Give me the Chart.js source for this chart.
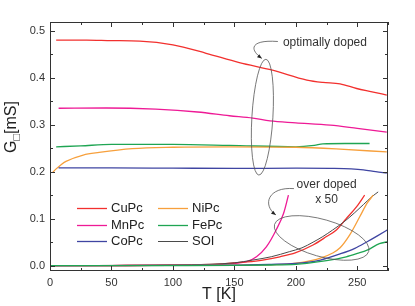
<!DOCTYPE html>
<html>
<head>
<meta charset="utf-8">
<script src="https://cdn.jsdelivr.net/npm/chart.js@4"></script>
<style>
html,body{margin:0;padding:0;background:#fff;}
canvas{display:block;}
</style>
</head>
<body>
<canvas id="c" width="415" height="306"></canvas>
<script>
// ---------- data ----------
// optimally doped
const T_CuPc = [5, 30, 50, 73, 100, 127, 154, 181, 209, 222, 236, 249.5, 262, 274];
const G_CuPc = [0.480, 0.480, 0.479, 0.478, 0.470, 0.452, 0.432, 0.416, 0.395, 0.390, 0.387, 0.377, 0.370, 0.363];
const T_MnPc = [7, 46, 86, 120, 146, 165, 179, 200, 228, 250, 274];
const G_MnPc = [0.335, 0.3355, 0.333, 0.327, 0.319, 0.314, 0.308, 0.304, 0.299, 0.292, 0.284];
const T_CoPc = [7, 50, 100, 150, 200, 228, 245, 255, 265, 274];
const G_CoPc = [0.208, 0.208, 0.2075, 0.207, 0.2075, 0.207, 0.206, 0.204, 0.200, 0.197];
const T_NiPc = [2, 5, 9, 13, 27, 40, 67, 100, 146, 200, 236, 274];
const G_NiPc = [0.198, 0.206, 0.215, 0.222, 0.2355, 0.241, 0.249, 0.252, 0.253, 0.252, 0.248, 0.242];
const T_FePc = [5, 25, 50, 100, 146, 200, 215, 222, 240, 260];
const G_FePc = [0.253, 0.255, 0.258, 0.258, 0.256, 0.253, 0.256, 0.259, 0.260, 0.260];
// over doped (x 50)
const T_CuPc_od = [0, 50, 100, 140, 160, 173, 187, 200, 214, 225, 233, 241, 249.5, 256];
const G_CuPc_od = [0, 0.0003, 0.001, 0.004, 0.008, 0.012, 0.019, 0.028, 0.044, 0.062, 0.076, 0.100, 0.1255, 0.150];
const T_MnPc_od = [0, 50, 100, 140, 150, 160, 168, 176, 184, 190, 194];
const G_MnPc_od = [0, 0.0003, 0.001, 0.003, 0.005, 0.0085, 0.019, 0.040, 0.076, 0.111, 0.150];
const T_CoPc_od = [0, 100, 150, 180, 200, 209, 220, 236, 248, 258, 266, 275];
const G_CoPc_od = [0, 0.0005, 0.001, 0.003, 0.005, 0.007, 0.012, 0.025, 0.037, 0.051, 0.063, 0.077];
const T_NiPc_od = [0, 100, 150, 190, 205, 220, 230, 236, 244, 252, 258, 263];
const G_NiPc_od = [0, 0.0005, 0.001, 0.003, 0.007, 0.016, 0.027, 0.038, 0.066, 0.104, 0.133, 0.150];
const T_FePc_od = [0, 100, 150, 180, 200, 209, 225, 241, 250, 258, 268, 275];
const G_FePc_od = [0, 0.0003, 0.0005, 0.0015, 0.003, 0.005, 0.0106, 0.019, 0.026, 0.033, 0.047, 0.051];
const T_SOI = [0, 50, 100, 130, 150, 165, 180, 195, 205, 214, 222, 230, 240, 248, 255, 262, 267];
const G_SOI = [0, 0.0005, 0.0015, 0.003, 0.006, 0.012, 0.019, 0.030, 0.038, 0.050, 0.062, 0.076, 0.095, 0.113, 0.130, 0.147, 0.157];

const xTickValues = [0, 50, 100, 150, 200, 250];
const xMinorValues = [25, 75, 125, 175, 225, 275];
const yTickValues = [0.0, 0.1, 0.2, 0.3, 0.4, 0.5];
const yMinorValues = [0.05, 0.15, 0.25, 0.35, 0.45];
const legendNames = ['CuPc', 'MnPc', 'CoPc', 'NiPc', 'FePc', 'SOI'];

// ---------- styles ----------
const COL = {CuPc:'#f2302e', MnPc:'#ee1a96', CoPc:'#3f45a2', NiPc:'#f7a03c', FePc:'#1fa553', SOI:'#4a4a4a'};
const FONT = 'Liberation Sans, Arial, Helvetica, sans-serif';

function pts(T, G){ return T.map((t,i)=>({x:t, y:G[i]})); }
function ds(label, T, G, color, w){
  return {label, data:pts(T,G), borderColor:color, backgroundColor:color, borderWidth:w||1.3,
    pointRadius:0, fill:false, cubicInterpolationMode:'monotone'};
}

const datasets = [
  ds('FePc', T_FePc_od, G_FePc_od, COL.FePc),
  ds('CoPc', T_CoPc_od, G_CoPc_od, COL.CoPc),
  ds('NiPc', T_NiPc_od, G_NiPc_od, COL.NiPc),
  ds('SOI', T_SOI, G_SOI, COL.SOI, 1.0),
  ds('CuPc', T_CuPc_od, G_CuPc_od, COL.CuPc),
  ds('MnPc', T_MnPc_od, G_MnPc_od, COL.MnPc),
  ds('CoPc', T_CoPc, G_CoPc, COL.CoPc),
  ds('NiPc', T_NiPc, G_NiPc, COL.NiPc),
  ds('FePc', T_FePc, G_FePc, COL.FePc),
  ds('MnPc', T_MnPc, G_MnPc, COL.MnPc),
  ds('CuPc', T_CuPc, G_CuPc, COL.CuPc),
];

// annotations (data coordinates for anchors)
const annot = {
  optEllipse: {T:172.8, G:0.316, rx:10.5, ry:58, rot:3.5},
  optText: {T:189.5, G:0.474, text:'optimally doped'},
  optArrow: {from:{T:185.4, G:0.477}, to:{T:172.4, G:0.441}},
  odEllipse: {T:221, G:0.059, rx:49, ry:18.5, rot:16},
  odText1: {T:200.6, G:0.172, text:'over doped'},
  odText2: {T:225, G:0.141, text:'x 50'},
  odArrow: {from:{T:198.5, G:0.164}, to:{T:183.8, G:0.108}},
};

const decor = {
  id:'decor',
  afterDatasetsDraw(chart){
    const ctx = chart.ctx, xs = chart.scales.x, ys = chart.scales.y, ca = chart.chartArea;
    const X = v=>xs.getPixelForValue(v), Y = v=>ys.getPixelForValue(v);
    ctx.save();
    // frame
    ctx.strokeStyle = '#333'; ctx.lineWidth = 1;
    ctx.strokeRect(Math.round(ca.left)+0.5, Math.round(ca.top)+0.5, Math.round(ca.right-ca.left)-1, Math.round(ca.bottom-ca.top)-1);
    // ticks (inward, all four sides)
    ctx.beginPath();
    const tick = (vals, len) => {
      vals.forEach(v=>{ const x = Math.round(X(v))+0.5;
        ctx.moveTo(x, ca.bottom); ctx.lineTo(x, ca.bottom-len);
        ctx.moveTo(x, ca.top); ctx.lineTo(x, ca.top+len); });
    };
    const ytick = (vals, len) => {
      vals.forEach(v=>{ const y = Math.round(Y(v))+0.5;
        ctx.moveTo(ca.left, y); ctx.lineTo(ca.left+len, y);
        ctx.moveTo(ca.right, y); ctx.lineTo(ca.right-len, y); });
    };
    tick(xTickValues, 5); tick(xMinorValues, 3);
    ytick(yTickValues, 5); ytick(yMinorValues, 3);
    ctx.stroke();

    // annotations
    ctx.strokeStyle = '#555'; ctx.lineWidth = 0.8;
    const ell = e => { ctx.beginPath(); ctx.ellipse(X(e.T), Y(e.G), e.rx, e.ry, e.rot*Math.PI/180, 0, 2*Math.PI); ctx.stroke(); };
    ell(annot.optEllipse); ell(annot.odEllipse);
    const arrow = a => {
      const x0 = X(a.from.T), y0 = Y(a.from.G), x1 = X(a.to.T), y1 = Y(a.to.G);
      ctx.beginPath(); ctx.moveTo(x0, y0);
      const c1x = x0 - 26, c1y = y0 - 2, c2x = x1 - 14, c2y = y1 - 10;
      ctx.bezierCurveTo(c1x, c1y, c2x, c2y, x1, y1); ctx.stroke();
      const ang = Math.atan2(y1 - c2y, x1 - c2x);
      ctx.beginPath(); ctx.fillStyle = '#222';
      ctx.moveTo(x1, y1);
      ctx.lineTo(x1 - 5*Math.cos(ang-0.4), y1 - 5*Math.sin(ang-0.4));
      ctx.lineTo(x1 - 5*Math.cos(ang+0.4), y1 - 5*Math.sin(ang+0.4));
      ctx.closePath(); ctx.fill();
    };
    arrow(annot.optArrow); arrow(annot.odArrow);
    ctx.fillStyle = '#333'; ctx.font = '12px ' + FONT; ctx.textBaseline = 'middle';
    ctx.textAlign = 'left';
    ctx.fillText(annot.optText.text, X(annot.optText.T), Y(annot.optText.G));
    ctx.fillText(annot.odText1.text, X(annot.odText1.T), Y(annot.odText1.G));
    ctx.textAlign = 'center';
    ctx.fillText(annot.odText2.text, X(annot.odText2.T), Y(annot.odText2.G));

    // legend
    ctx.font = '13px ' + FONT; ctx.textAlign = 'left'; ctx.textBaseline = 'middle';
    legendNames.forEach((n, i) => {
      const col = Math.floor(i/3), row = i%3;
      const lx = ca.left + 27 + col*81, ly = ca.top + 186 + row*16.7;
      ctx.beginPath(); ctx.strokeStyle = COL[n]; ctx.lineWidth = n==='SOI'?1:1.3;
      ctx.moveTo(lx, Math.round(ly)+0.5); ctx.lineTo(lx+30, Math.round(ly)+0.5); ctx.stroke();
      ctx.fillStyle = '#222';
      ctx.fillText(n, lx + 34, ly + 0.5);
    });

    // axis titles
    ctx.fillStyle = '#222';
    ctx.font = '16px ' + FONT; ctx.textAlign = 'center'; ctx.textBaseline = 'middle';
    ctx.fillText('T [K]', (ca.left+ca.right)/2, 295);
    ctx.save();
    ctx.translate(12, 127); ctx.rotate(-Math.PI/2);
    ctx.textAlign = 'left'; ctx.textBaseline = 'middle';
    const wG = ctx.measureText('G').width;
    ctx.font = '11px ' + FONT; const wS = ctx.measureText('\u25A1').width;
    ctx.font = '16px ' + FONT; const wM = ctx.measureText('[mS]').width;
    let sx = -(wG + wS + wM)/2;
    ctx.fillText('G', sx, 0); sx += wG;
    ctx.font = '11px ' + FONT; ctx.fillText('\u25A1', sx, 5); sx += wS;
    ctx.font = '16px ' + FONT; ctx.fillText('[mS]', sx, 0);
    ctx.restore();
    ctx.restore();
  }
};

new Chart(document.getElementById('c'), {
  type:'line',
  data:{datasets},
  options:{
    responsive:false, animation:false, devicePixelRatio:1,
    layout:{padding:{left:0, right:27, top:22, bottom:0}},
    plugins:{legend:{display:false}, tooltip:{enabled:false}},
    scales:{
      x:{type:'linear', min:0, max:275,
        grid:{display:false, drawTicks:false}, border:{display:false},
        ticks:{font:{size:11, family:FONT}, color:'#333', padding:5, maxRotation:0},
        afterBuildTicks(s){ s.ticks = xTickValues.map(v=>({value:v})); },
        afterFit(s){ s.height = 35; }},
      y:{type:'linear', min:-0.0113, max:0.5185,
        grid:{display:false, drawTicks:false}, border:{display:false},
        ticks:{font:{size:11, family:FONT}, color:'#333', padding:5, callback:v=>v.toFixed(1)},
        afterBuildTicks(s){ s.ticks = yTickValues.map(v=>({value:v})); },
        afterFit(s){ s.width = 50; }}
    }
  },
  plugins:[decor]
});
</script>
</body>
</html>
